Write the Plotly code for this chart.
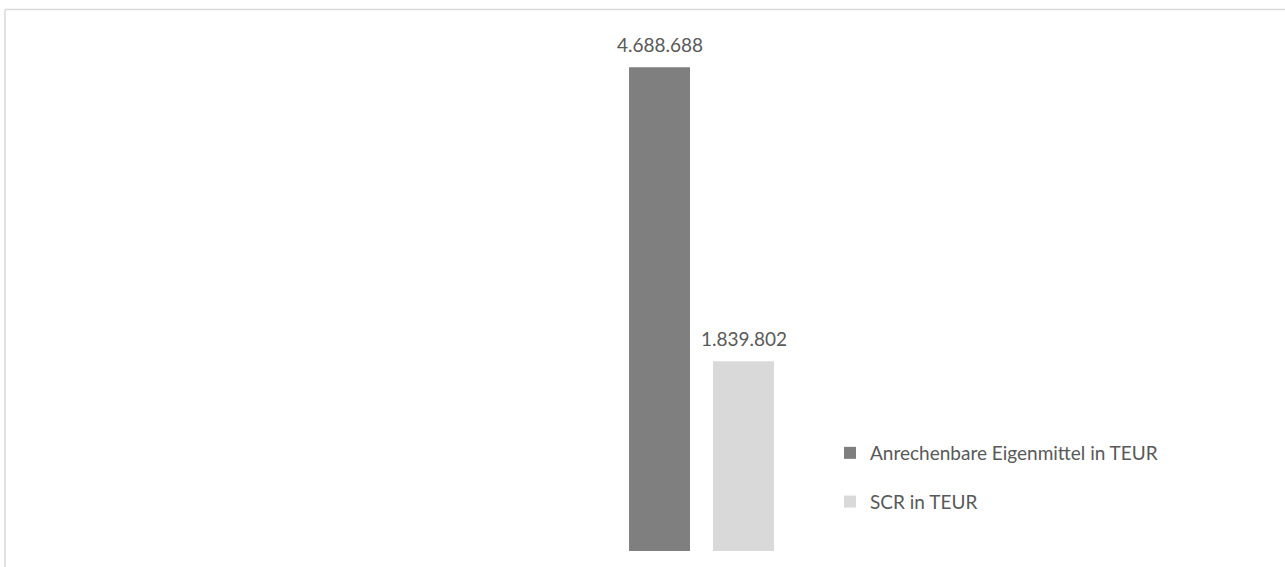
import plotly.graph_objects as go

categories = ["Solvabilität"]
series_names = ["Anrechenbare Eigenmittel in TEUR", "SCR in TEUR"]
eigenmittel = [4688688]
scr = [1839802]
colors = ["#7f7f7f", "#d9d9d9"]

W, H = 1285, 567
plot_left, plot_right = 568, 835
plot_top, plot_bottom = 35, 551

fig = go.Figure()
for name, vals, col in zip(series_names, [eigenmittel, scr], colors):
    fig.add_trace(go.Bar(
        x=categories, y=vals, name=name, marker_color=col,
        marker_line_width=0, legendgroup=name,
    ))

def fmt(v):
    return f"{v:,}".replace(",", ".")

for vals, shift in zip([eigenmittel, scr], [-42, 42]):
    for c, v in zip(categories, vals):
        fig.add_annotation(x=c, y=v, text=fmt(v), showarrow=False,
                           xshift=shift, yanchor="bottom", yshift=9,
                           font=dict(size=19, color="#595959"))

pw = plot_right - plot_left
ph = plot_bottom - plot_top
def px_x(p):
    return (p - plot_left) / pw
def px_y(p):
    return (plot_bottom - p) / ph

border = dict(color="#d9d9d9", width=1.5)
fig.add_shape(type="line", xref="paper", yref="paper",
              x0=px_x(5), x1=px_x(5), y0=px_y(570), y1=px_y(9.5), line=border)
fig.add_shape(type="line", xref="paper", yref="paper",
              x0=px_x(5), x1=px_x(1290), y0=px_y(9.5), y1=px_y(9.5), line=border)

fig.update_layout(
    width=W, height=H,
    margin=dict(l=plot_left, r=W - plot_right, t=plot_top, b=H - plot_bottom, pad=0),
    paper_bgcolor="white", plot_bgcolor="white",
    barmode="group", bargap=0.371, bargroupgap=0.274,
    separators=",.",
    font=dict(family="Lato, Calibri, sans-serif", size=19, color="#595959"),
    xaxis=dict(showticklabels=False, showgrid=False, zeroline=False, showline=False, ticks=""),
    yaxis=dict(range=[0, 5000000], showticklabels=False, showgrid=False, zeroline=False,
               showline=False, ticks=""),
    legend=dict(x=px_x(830), xanchor="left", y=px_y(434), yanchor="top",
                tracegroupgap=21, font=dict(size=19, color="#595959"),
                bgcolor="rgba(0,0,0,0)", itemclick=False),
    showlegend=True,
)

fig.write_html("out.html", config={"displayModeBar": False},
               post_script="document.body.style.margin='0';document.body.style.overflow='hidden';")
